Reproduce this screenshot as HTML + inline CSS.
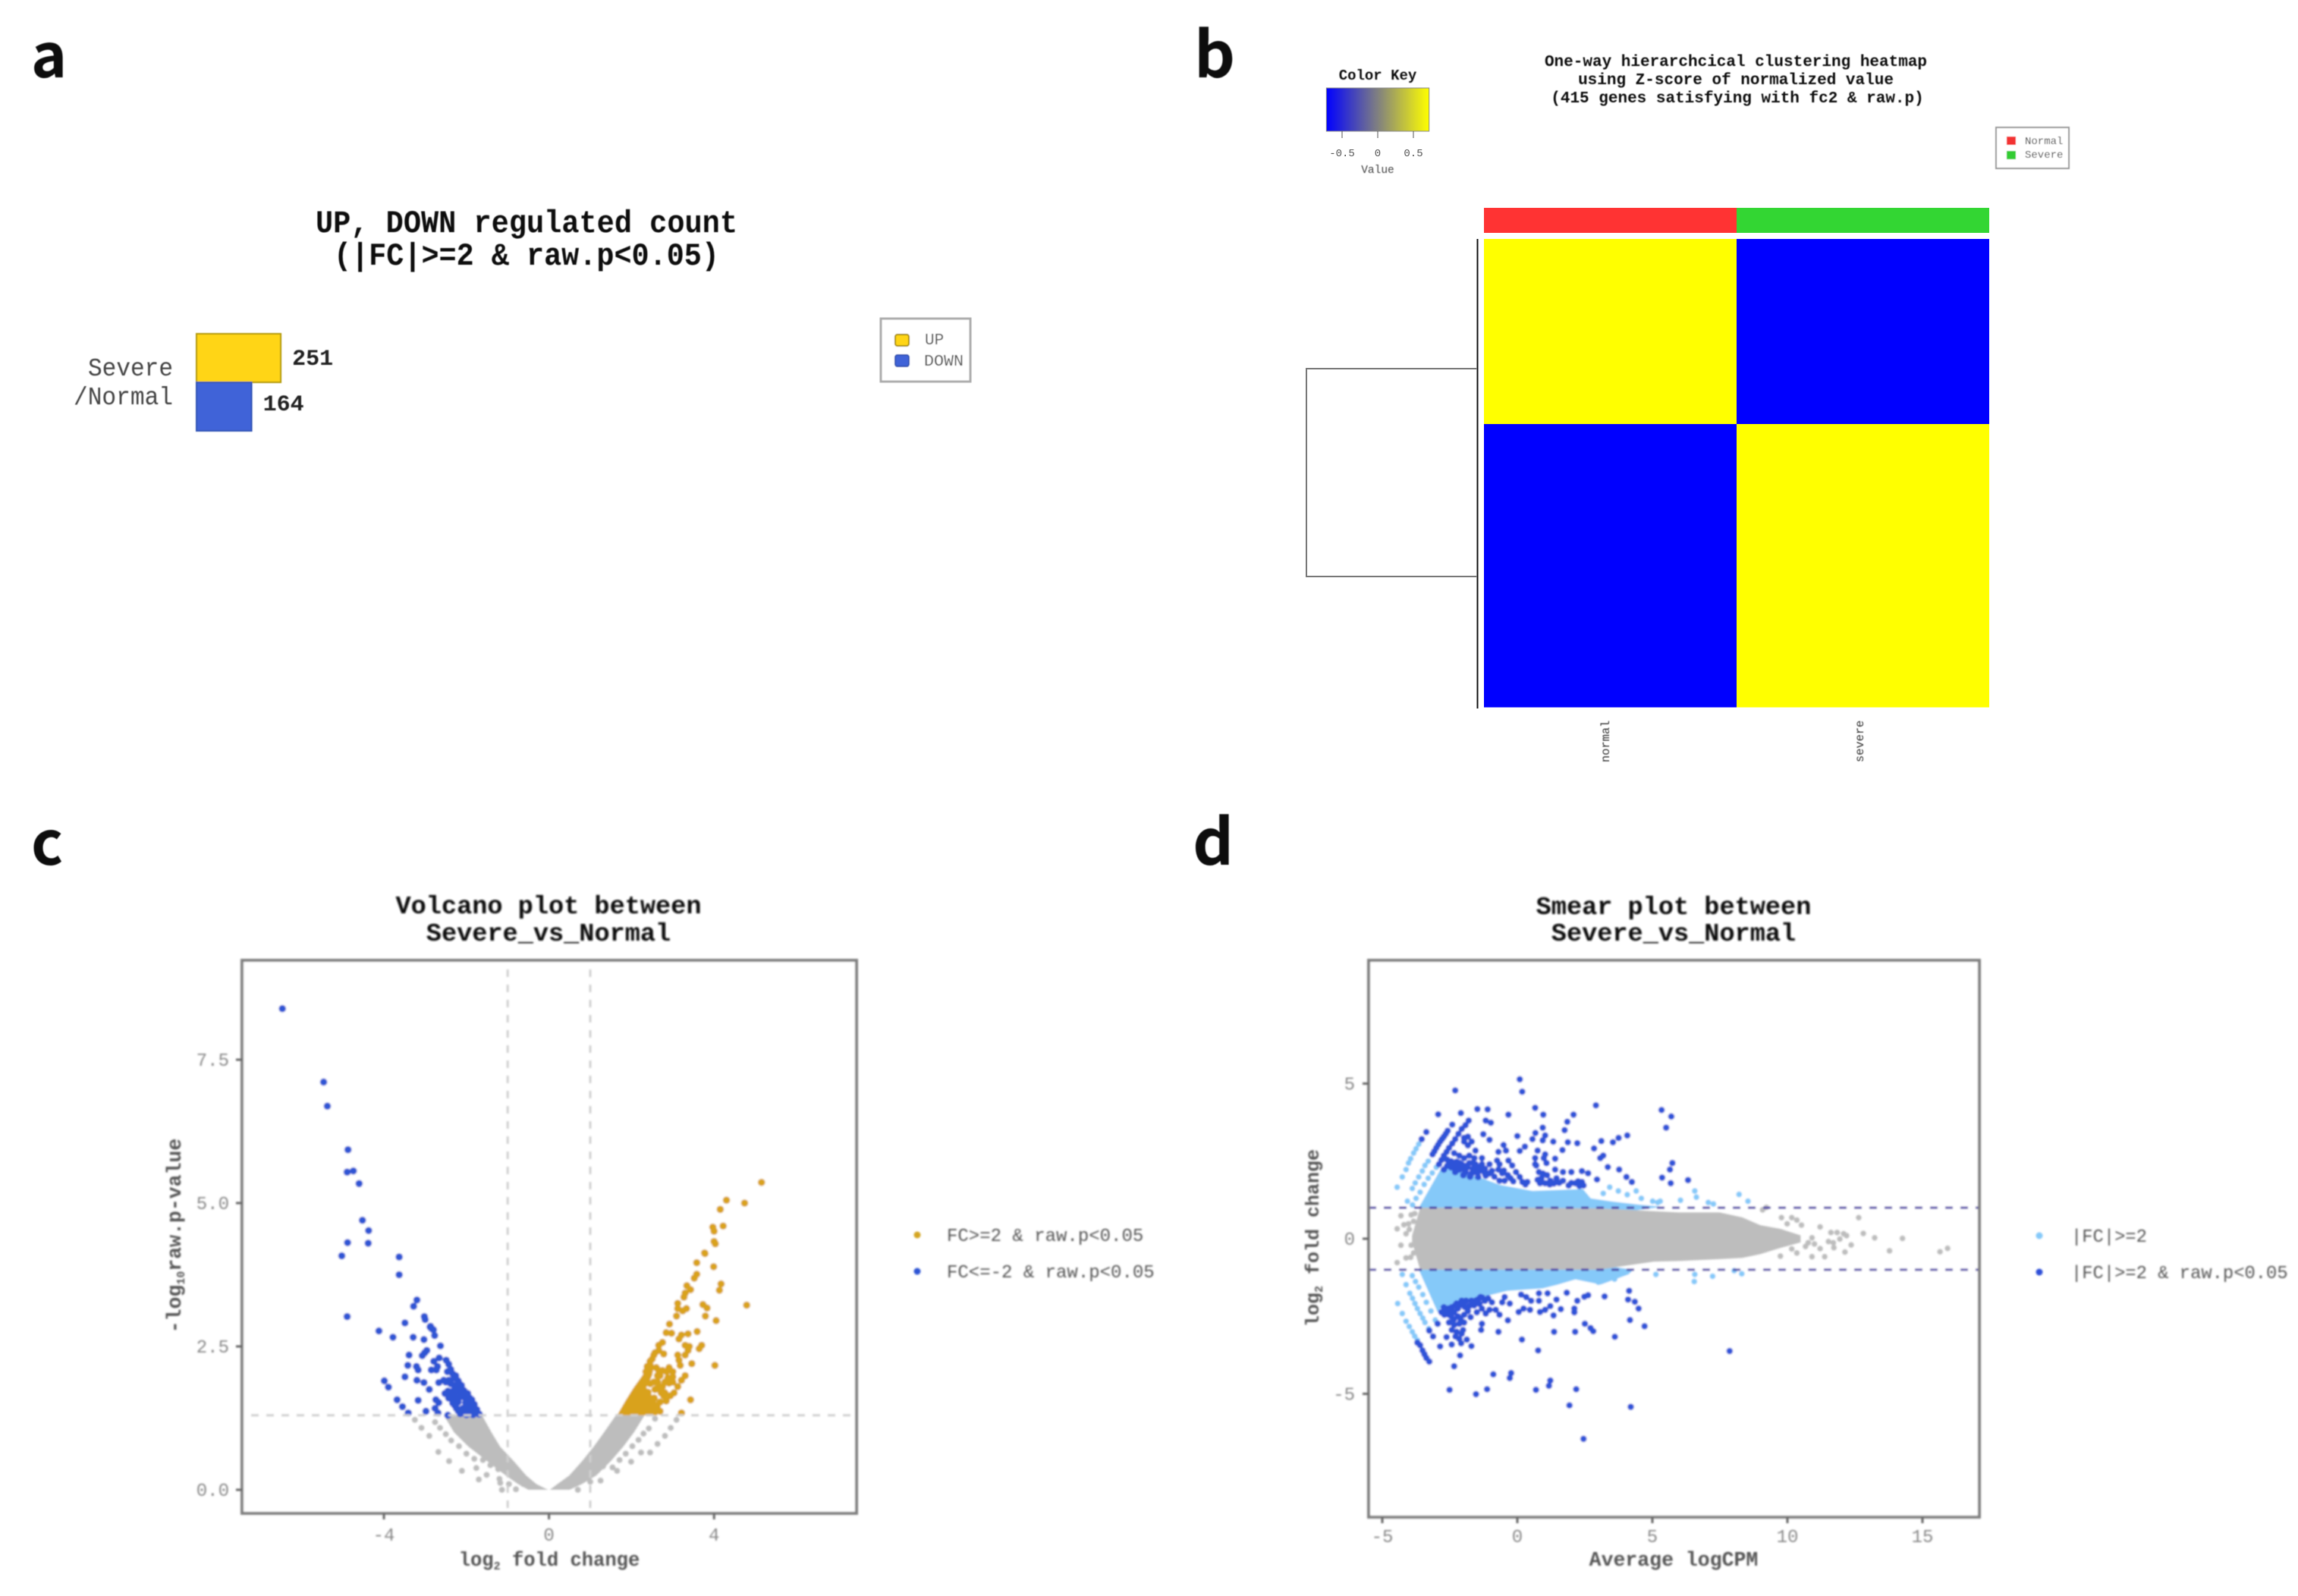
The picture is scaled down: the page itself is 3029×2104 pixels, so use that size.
<!DOCTYPE html>
<html lang="en">
<head>
<meta charset="utf-8">
<title>Differential expression figure</title>
<style>
html,body{margin:0;padding:0;background:#fff;}
svg{display:block;}
text{font-family:"Liberation Mono","DejaVu Sans Mono",monospace;}
.sans{font-family:"Noto Sans CJK KR","Liberation Sans",sans-serif;font-weight:700;}
</style>
</head>
<body>
<svg id="fig" xmlns="http://www.w3.org/2000/svg" width="3029" height="2104" viewBox="0 0 3029 2104">
<defs>
<filter id="soft" filterUnits="userSpaceOnUse" x="0" y="0" width="3029" height="2104"><feGaussianBlur stdDeviation="1.1"/></filter>
<filter id="softer" filterUnits="userSpaceOnUse" x="0" y="0" width="3029" height="2104"><feGaussianBlur stdDeviation="0.6"/></filter>
<linearGradient id="keyGradient" x1="0" x2="1" y1="0" y2="0"><stop offset="0" stop-color="#0000ff"/><stop offset="0.5" stop-color="#808080"/><stop offset="1" stop-color="#ffff00"/></linearGradient>
</defs>

<g filter="url(#softer)">
<text class="sans" x="41" y="102" font-size="80" fill="#111">a</text>
<text class="sans" x="1574" y="102" font-size="84" fill="#111">b</text>
<text class="sans" x="41" y="1140" font-size="80" fill="#111">c</text>
<text class="sans" x="1572" y="1140" font-size="84" fill="#111">d</text>
</g>

<g id="panelA" filter="url(#softer)">
<text x="694" y="306" font-size="42" font-weight="700" text-anchor="middle" textLength="556" lengthAdjust="spacingAndGlyphs" fill="#111">UP, DOWN regulated count</text>
<text x="694" y="349" font-size="42" font-weight="700" text-anchor="middle" textLength="508" lengthAdjust="spacingAndGlyphs" fill="#111">(|FC|&gt;=2 &amp; raw.p&lt;0.05)</text>
<text x="228" y="495" font-size="33" text-anchor="end" textLength="112" lengthAdjust="spacingAndGlyphs" fill="#444">Severe</text>
<text x="228" y="533" font-size="33" text-anchor="end" textLength="131" lengthAdjust="spacingAndGlyphs" fill="#444">/Normal</text>
<g>
<rect x="1161" y="420" width="118" height="83" fill="#fff" stroke="#aaa" stroke-width="3"/>
<rect x="1180" y="441" width="18" height="15" rx="3" fill="#ffd514" stroke="#a98f10" stroke-width="2"/>
<rect x="1180" y="468" width="18" height="15" rx="3" fill="#3f63d8" stroke="#3355b5" stroke-width="2"/>
<text x="1219" y="454" font-size="21" fill="#555">UP</text>
<text x="1218" y="482" font-size="21" textLength="52" lengthAdjust="spacingAndGlyphs" fill="#555">DOWN</text>
</g>
</g>

<g id="panelB">
<g filter="url(#softer)">
<text x="1816" y="105" font-size="19" font-weight="700" text-anchor="middle" fill="#111">Color Key</text>
<text x="1816" y="228" font-size="14.5" text-anchor="middle" fill="#444">Value</text>
<text x="2288" y="87" font-size="21" font-weight="700" text-anchor="middle" fill="#111">One-way hierarchcical clustering heatmap</text>
<text x="2288" y="111" font-size="21" font-weight="700" text-anchor="middle" fill="#111">using Z-score of normalized value</text>
<text x="2290" y="135" font-size="21" font-weight="700" text-anchor="middle" fill="#111">(415 genes satisfying with fc2 &amp; raw.p)</text>
<rect x="2631" y="168" width="96" height="54" fill="#fff" stroke="#999" stroke-width="2"/>
<rect x="2645" y="180" width="12" height="11" fill="#f33333"/>
<rect x="2645" y="199" width="12" height="11" fill="#33cc33"/>
<text x="2669" y="190" font-size="14" fill="#444">Normal</text>
<text x="2669" y="208" font-size="14" fill="#444">Severe</text>
<text transform="translate(2121,1005) rotate(-90)" font-size="15.4" fill="#333">normal</text>
<text transform="translate(2456,1005) rotate(-90)" font-size="15.4" fill="#333">severe</text>
</g>
<g id="keyLayer"></g>
<g id="heatLayer"></g>
<line x1="1947.5" y1="315" x2="1947.5" y2="934" stroke="#111" stroke-width="2"/>
<path d="M1947 486H1722V760H1947" fill="none" stroke="#777" stroke-width="2"/>
</g>

<g id="panelC" filter="url(#soft)">
<text x="723" y="1204" font-size="33.6" font-weight="700" text-anchor="middle" fill="#111">Volcano plot between</text>
<text x="723" y="1240" font-size="33.6" font-weight="700" text-anchor="middle" fill="#111">Severe_vs_Normal</text>
<text x="724" y="2064" font-size="25.5" font-weight="700" text-anchor="middle" fill="#555">log<tspan font-size="15" dy="5">2</tspan><tspan dy="-5"> fold change</tspan></text>
<text transform="translate(238,1629) rotate(-90)" font-size="26.5" font-weight="700" text-anchor="middle" fill="#555">-log<tspan font-size="15" dy="5">10</tspan><tspan dy="-5">raw.p-value</tspan></text>
<circle cx="1209" cy="1628" r="4.5" fill="#d4a520"/>
<circle cx="1209" cy="1676" r="4.5" fill="#2f55d4"/>
<text x="1248" y="1636" font-size="24" fill="#555">FC&gt;=2 &amp; raw.p&lt;0.05</text>
<text x="1248" y="1684" font-size="24" fill="#555">FC&lt;=-2 &amp; raw.p&lt;0.05</text>
</g>

<g id="panelD" filter="url(#soft)">
<text x="2206" y="1205" font-size="33.6" font-weight="700" text-anchor="middle" fill="#111">Smear plot between</text>
<text x="2206" y="1240" font-size="33.6" font-weight="700" text-anchor="middle" fill="#111">Severe_vs_Normal</text>
<text x="2206" y="2064" font-size="26.5" font-weight="700" text-anchor="middle" fill="#555">Average logCPM</text>
<text transform="translate(1738,1632) rotate(-90)" font-size="25" font-weight="700" text-anchor="middle" fill="#555">log<tspan font-size="15" dy="5">2</tspan><tspan dy="-5"> fold change</tspan></text>
<circle cx="2688" cy="1629" r="4.5" fill="#85c9f9"/>
<circle cx="2688" cy="1677" r="4.5" fill="#2f4fd8"/>
<text x="2730" y="1637" font-size="23.8" fill="#555">|FC|&gt;=2</text>
<text x="2730" y="1685" font-size="23.8" fill="#555">|FC|&gt;=2 &amp; raw.p&lt;0.05</text>
</g>
</svg>

<script>
// ---------- panel a data ----------
const barCategories = ['UP', 'DOWN'];
const barCounts = [251, 164];

// ---------- panel b data ----------
const heatmapValues = [[1, -1], [-1, 1]];
const heatmapRowGenes = [164, 251];
const heatmapGroups = ['Normal', 'Severe'];
const colorKeyTicks = [-0.5, 0, 0.5];
const colorKeyRange = [-0.72, 0.72];

// ---------- panel c data ----------
const volcanoXTicks = [-4, 0, 4];
const volcanoYTicks = [0, 2.5, 5, 7.5];
const volcanoFcCutoffs = [-1, 1];
const volcanoPCutoff = 1.3;
const volcanoBandP = [1.30, 1.0, 0.75, 0.5, 0.25, 0.1, 0];
const volcanoLeftOuter = [-2.55, -2.3, -1.95, -1.5, -1.05, -0.75, -0.5];
const volcanoLeftInner = [-1.62, -1.39, -1.18, -0.85, -0.55, -0.3, -0.02];
const volcanoRightInner = [1.62, 1.33, 1.08, 0.8, 0.49, 0.2, 0.02];
const volcanoRightOuter = [2.32, 2.06, 1.8, 1.5, 1.15, 0.8, 0.5];
const volcanoGoldBandP = [1.30, 1.55, 1.78, 1.99, 2.13, 2.24];
const volcanoGoldBandLow = [1.65, 1.85, 2.05, 2.26, 2.36, 2.42];
const volcanoGoldBandHigh = [2.63, 2.6, 2.36, 2.5, 2.54, 2.5];
const volcanoGrayPoints = [[-3.25,1.22],[-3.09,1.08],[-2.90,0.94],[-2.68,0.66],[-2.42,0.50],[-2.11,0.33],[-1.76,0.38],[-1.51,0.26],[-1.70,0.18],[-1.20,0.19],[-1.14,0.00],[-0.97,0.10],[-2.76,1.18],[-2.64,1.08],[-2.50,0.97],[-2.37,0.86],[-2.18,0.76],[-2.00,0.63],[-1.81,0.54],[-1.60,0.52],[-1.42,0.43],[-1.23,0.36],[-0.80,0.01],[-0.62,0.10],[-1.18,0.12],[2.57,1.24],[2.42,1.07],[2.29,0.98],[2.17,0.87],[2.02,0.76],[1.86,0.63],[1.71,0.52],[1.54,0.39],[1.65,0.33],[1.31,0.41],[1.25,0.16],[0.70,0.0],[3.09,1.22],[2.95,1.08],[2.81,0.94],[2.63,0.80],[2.45,0.65],[2.23,0.65],[1.99,0.49],[1.0,0.14]];
const volcanoDownPoints = [[-6.46,8.39],[-5.46,7.11],[-5.37,6.69],[-4.87,5.93],[-4.89,5.54],[-4.74,5.56],[-4.60,5.34],[-4.52,4.70],[-4.37,4.52],[-4.38,4.30],[-4.88,4.31],[-5.02,4.08],[-3.63,4.06],[-3.63,3.75],[-4.89,3.02],[-3.20,3.31],[-3.28,3.20],[-3.02,3.02],[-3.00,2.97],[-3.49,2.91],[-2.88,2.84],[-2.80,2.79],[-4.12,2.77],[-3.78,2.66],[-3.29,2.66],[-3.03,2.62],[-2.87,2.85],[-2.84,2.81],[-2.77,2.69],[-2.63,2.51],[-2.96,2.43],[-3.01,2.39],[-3.07,2.34],[-3.39,2.35],[-3.42,2.17],[-3.21,2.15],[-3.17,2.09],[-3.49,1.97],[-3.20,1.91],[-3.03,1.87],[-2.90,1.75],[-3.99,1.90],[-3.89,1.79],[-3.68,1.57],[-3.55,1.45],[-3.41,1.34],[-3.17,1.56],[-2.98,1.37],[-2.76,1.42],[-2.69,1.34],[-2.74,1.57],[-2.67,1.52],[-2.45,1.30],[-2.66,2.30],[-2.79,2.24],[-2.70,2.15],[-2.85,2.09],[-2.73,2.09],[-2.49,2.26],[-2.43,2.19],[-2.46,2.06],[-2.33,2.02],[-2.26,1.99],[-2.18,1.86],[-2.67,1.87],[-2.55,1.91],[-2.43,1.91],[-2.30,1.82],[-2.15,1.79],[-2.52,1.68],[-2.36,1.71],[-2.21,1.73],[-2.06,1.73],[-1.97,1.68],[-2.43,1.60],[-2.27,1.60],[-2.15,1.62],[-2.03,1.60],[-1.87,1.57],[-2.33,1.51],[-1.97,1.49],[-1.81,1.49],[-2.24,1.42],[-2.09,1.42],[-1.94,1.40],[-1.75,1.40],[-2.15,1.33],[-2.00,1.31],[-1.84,1.31],[-1.69,1.32],[-2.20,1.53],[-2.10,1.36],[-1.88,1.44],[-2.40,1.65],[-2.28,1.47],[-2.45,1.72],[-2.30,1.66],[-2.12,1.68],[-1.92,1.60],[-2.35,1.58],[-2.02,1.52],[-1.90,1.52],[-1.75,1.35],[-1.95,1.33],[-2.05,1.37],[-2.20,1.38],[-1.82,1.37],[-2.27,1.50],[-2.38,2.10],[-2.30,1.95],[-2.20,1.90],[-2.38,1.85],[-2.50,1.88],[-2.25,1.75],[-2.12,1.82]];
const volcanoUpPoints = [[5.15,5.36],[4.30,5.05],[4.15,4.89],[4.74,5.0],[3.97,4.58],[4.0,4.51],[4.22,4.60],[4.0,4.33],[3.77,4.13],[4.03,4.29],[3.78,4.12],[3.58,3.96],[3.99,3.89],[3.58,3.76],[3.52,3.69],[4.17,3.59],[4.13,3.48],[3.34,3.56],[3.43,3.49],[3.30,3.43],[3.27,3.36],[4.79,3.22],[3.73,3.23],[3.83,3.17],[3.79,3.03],[4.05,2.95],[3.12,3.25],[3.33,3.16],[3.24,3.12],[3.12,3.16],[3.09,3.03],[2.92,2.89],[2.84,2.74],[2.97,2.73],[3.37,2.72],[3.59,2.76],[3.21,2.70],[3.15,2.63],[2.75,2.57],[2.66,2.52],[3.70,2.52],[3.64,2.46],[3.40,2.50],[3.30,2.52],[3.37,2.43],[2.78,2.37],[2.57,2.39],[3.12,2.35],[3.30,2.35],[3.15,2.26],[3.18,2.17],[3.46,2.20],[4.02,2.17],[2.45,2.24],[2.60,2.13],[3.00,2.06],[2.85,2.06],[2.69,1.99],[3.0,1.97],[3.30,1.99],[3.21,1.91],[3.12,1.80],[3.03,1.69],[2.94,1.64],[2.84,1.55],[2.81,1.88],[2.91,1.86],[2.72,1.69],[2.75,1.80],[3.43,1.57],[3.21,1.34],[2.69,1.37],[2.69,1.75],[2.78,1.64],[2.63,1.88],[2.55,1.60],[2.62,1.45],[2.54,1.88],[2.63,1.99],[2.57,1.75],[2.75,2.08],[2.66,2.08],[2.91,2.13],[2.63,1.77],[2.81,1.69],[2.69,1.53],[2.88,1.95],[3.0,1.88],[2.57,1.46],[2.45,2.17],[2.54,2.35],[2.66,2.43],[2.35,2.06],[2.50,2.28],[2.38,2.15],[2.45,1.85],[2.40,1.70]];

// ---------- panel d data ----------
const smearXTicks = [-5, 0, 5, 10, 15];
const smearYTicks = [-5, 0, 5];
const smearFcCutoffs = [-1, 1];
const smearGrayCpm = [-3.9, -3.6, 0, 3, 5.06, 5.99, 7.49, 8.33, 8.99, 9.74, 10.49];
const smearGrayUpper = [0.1, 1, 1, 0.98, 0.89, 0.85, 0.85, 0.69, 0.44, 0.32, 0.11];
const smearGrayLower = [-0.1, -1, -1, -1, -0.74, -0.72, -0.66, -0.62, -0.5, -0.3, -0.12];
const smearLightTopCpm = [-3.65, -2.81, -2.25, -1.31, -0.66, 0.56, 2.43, 2.72, 3.5, 4.5, 5.4];
const smearLightTop = [1, 2.29, 2.2, 1.95, 1.74, 1.54, 1.6, 1.3, 1.2, 1.1, 1.03];
const smearLightBottomCpm = [-3.65, -2.95, -2.81, -1.31, -0.37, 0.94, 1.5, 2.15, 3.09, 4.12, 4.3];
const smearLightBottom = [-1, -2.37, -2.21, -1.88, -1.68, -1.6, -1.48, -1.31, -1.48, -1.15, -1];
const smearGrayPoints = [[12.64,0.68],[12.81,0.17],[13.23,0.03],[14.26,0.01],[13.78,-0.39],[15.65,-0.42],[15.93,-0.31],[12.36,-0.2],[11.21,0.38],[11.21,-0.32],[11.38,-0.58],[12.13,-0.43],[11.61,0.2],[11.84,0.2],[12.08,0.16],[12.19,0.10],[11.52,-0.09],[11.70,-0.13],[11.94,-0.01],[11.72,-0.29],[10.91,0.03],[10.77,-0.13],[10.67,-0.25],[10.91,-0.58],[11.0,-0.17],[9.78,0.68],[10.16,0.68],[10.35,0.6],[10.52,0.44],[9.99,0.48],[9.74,-0.56],[10.16,-0.33],[10.35,-0.46],[9.08,0.93],[9.22,1.01],[-4.45,0.32],[-4.31,0.74],[-4.03,0.48],[-3.93,0.77],[-4.12,0.16],[-3.84,0.56],[-3.8,0.81],[-4.45,-0.77],[-4.31,-0.21],[-4.12,-0.62],[-3.84,-0.46],[-3.93,-0.21],[-4.0,0.3],[-4.2,0.45],[-3.95,-0.6]];
const smearLightPoints = [[-4.45,1.66],[-4.26,1.99],[-4.12,2.23],[-4.03,2.44],[-3.95,2.58],[-3.84,2.76],[-3.75,2.9],[-3.65,3.05],[-4.07,1.21],[-3.89,1.62],[-3.78,1.8],[-3.65,1.99],[-3.52,2.18],[-3.42,2.36],[-3.3,2.5],[-3.88,1.09],[-3.75,1.3],[-3.6,1.5],[-3.45,1.75],[-3.3,1.95],[-3.15,2.12],[-3.0,2.3],[8.21,1.43],[8.54,1.21],[6.04,1.24],[6.57,1.54],[6.63,1.34],[7.07,1.17],[7.26,1.12],[5.2,1.17],[6.57,-1.15],[6.55,-1.38],[7.23,-1.21],[8.03,-1.03],[8.31,-1.13],[5.13,-1.15],[3.42,1.66],[3.18,1.46],[3.74,1.54],[4.07,1.42],[4.40,1.54],[4.59,1.30],[5.01,1.21],[5.29,1.21],[-4.43,-2.09],[-4.26,-2.41],[-4.12,-2.66],[-4.0,-2.83],[-3.89,-3.0],[-3.8,-3.14],[-3.7,-3.27],[-4.26,-1.15],[-4.12,-1.48],[-3.98,-1.76],[-3.88,-1.92],[-3.79,-2.09],[-3.7,-2.25],[-3.6,-2.41],[-3.5,-2.56],[-3.42,-2.70],[-3.28,-2.9],[-3.89,-1.19],[-3.77,-1.38],[-3.65,-1.56],[-3.5,-1.8],[-3.37,-2.05],[-3.2,-2.33],[-3.04,-2.62],[3.0,-1.4],[3.3,-1.25],[3.6,-1.3]];
const smearSigPoints = [[-2.30,4.78],[0.09,5.14],[0.18,4.74],[-2.93,4.01],[-2.09,4.05],[-1.48,4.18],[-1.10,4.17],[-0.33,4.0],[0.66,4.22],[0.96,4.0],[2.91,4.30],[5.34,4.15],[5.70,3.94],[5.51,3.58],[2.08,4.0],[1.85,3.77],[1.75,3.50],[-1.80,3.81],[-2.41,3.68],[-3.37,3.44],[-3.54,3.21],[-1.17,3.81],[-0.98,3.74],[-1.26,3.37],[-1.03,3.19],[0.0,3.31],[0.56,3.21],[0.67,3.41],[0.94,3.58],[1.03,3.33],[0.94,3.17],[1.33,3.13],[1.87,3.11],[2.22,3.08],[1.67,2.86],[3.11,3.15],[2.84,2.91],[3.54,3.11],[3.75,3.25],[4.07,3.33],[3.07,2.60],[3.18,2.68],[3.35,2.31],[3.77,2.23],[4.04,1.99],[4.24,1.83],[5.36,1.97],[5.68,1.79],[5.65,2.23],[5.74,2.44],[2.95,1.91],[1.40,2.23],[1.69,2.15],[2.0,2.15],[2.39,2.18],[2.62,2.11],[6.32,1.89],[-3.14,2.72],[-3.0,2.93],[-2.86,3.13],[-2.72,3.29],[-2.58,3.48],[-2.9,2.40],[-2.72,2.68],[-2.53,2.93],[-2.3,3.21],[-2.06,3.54],[-1.92,3.66],[-1.97,3.25],[-1.83,3.29],[-1.69,3.13],[-1.83,3.01],[-1.97,3.13],[-1.55,2.84],[-0.51,3.02],[-0.42,2.84],[-0.70,2.80],[0.09,2.83],[0.28,2.97],[0.75,2.84],[1.03,2.72],[1.40,2.58],[-2.34,2.76],[-2.15,2.68],[-1.97,2.60],[-1.78,2.68],[-1.59,2.60],[-1.31,2.60],[-2.25,2.48],[-2.06,2.40],[-1.78,2.44],[-1.55,2.40],[-1.31,2.40],[-1.03,2.40],[-2.53,2.40],[-2.39,2.31],[-2.15,2.23],[-1.92,2.15],[-1.69,2.11],[-1.45,1.99],[-1.17,2.03],[-0.94,2.19],[-0.75,2.52],[-0.66,2.40],[-0.70,2.23],[-0.56,2.11],[-0.66,1.87],[-0.47,1.87],[-0.33,2.52],[-0.19,2.36],[-0.05,2.15],[0.09,1.99],[0.19,1.83],[0.37,1.83],[0.66,2.60],[0.70,2.36],[0.80,2.15],[0.89,1.95],[0.84,1.79],[1.03,1.79],[0.98,2.60],[1.08,2.44],[1.45,1.95],[1.69,1.87],[2.15,1.79],[2.39,1.83],[1.22,1.87],[0.66,2.40],[-2.72,2.23],[-2.25,2.30],[-2.0,2.25],[-1.65,2.25],[-1.3,2.2],[-3.07,2.82],[-2.93,3.03],[-2.79,3.21],[-2.65,3.38],[-2.81,2.54],[-2.62,2.8],[-2.41,3.07],[-2.18,3.38],[-2.6,2.55],[-2.45,2.5],[-2.3,2.45],[-2.45,2.3],[-2.15,2.45],[-1.9,2.35],[-1.65,2.45],[-1.45,2.3],[-1.2,2.25],[-1.45,2.15],[-1.2,2.1],[-1.05,2.1],[-0.85,2.0],[-2.6,2.35],[-2.3,2.15],[-2.0,2.05],[-1.75,2.0],[-1.55,2.15],[-1.85,2.3],[-2.1,2.35],[-0.5,2.2],[-0.35,2.05],[-0.25,1.95],[-0.15,1.85],[0.3,1.75],[0.75,1.9],[0.95,2.1],[1.1,2.05],[1.2,1.75],[1.35,1.78],[1.55,1.8],[2.0,1.8],[2.25,1.85],[2.45,1.72],[2.3,1.7],[1.9,1.72],[-2.51,-4.87],[-1.53,-5.01],[-1.12,-4.85],[-0.89,-4.37],[-0.23,-4.33],[-0.28,-4.49],[0.69,-4.87],[1.22,-4.57],[1.17,-4.74],[2.18,-4.85],[2.45,-6.45],[4.2,-5.42],[7.86,-3.62],[1.93,-5.37],[-2.34,-4.11],[-2.12,-3.76],[0.77,-3.6],[0.17,-3.25],[3.61,-3.16],[1.36,-3.0],[2.14,-3.0],[2.50,-2.74],[2.71,-2.88],[2.81,-2.98],[4.71,-2.82],[4.17,-2.62],[-0.70,-3.0],[-0.35,-2.63],[-1.34,-2.94],[-1.31,-2.74],[1.34,-2.47],[1.61,-2.27],[2.11,-2.37],[2.11,-2.25],[4.49,-2.25],[4.10,-1.96],[4.35,-2.03],[4.14,-1.68],[3.23,-1.86],[2.62,-1.82],[2.48,-1.87],[2.22,-2.0],[1.45,-1.96],[1.83,-1.74],[1.12,-1.76],[0.84,-2.36],[1.03,-2.29],[1.22,-2.17],[0.80,-2.0],[0.80,-1.76],[0.14,-1.80],[0.33,-1.88],[0.51,-2.0],[0.05,-2.36],[0.23,-2.25],[0.47,-2.29],[-0.28,-2.09],[-0.47,-1.88],[-0.66,-2.45],[-0.8,-2.29],[-1.03,-2.29],[-0.56,-2.05],[-2.86,-3.47],[-2.43,-3.41],[-2.08,-3.37],[-1.70,-3.46],[-1.87,-3.25],[-2.62,-3.17],[-3.12,-3.15],[-3.26,-2.96],[-2.95,-2.74],[-3.6,-3.43],[-3.51,-3.6],[-3.37,-3.84],[-3.26,-3.96],[-3.7,-3.35],[-3.44,-3.72],[-2.53,-2.70],[-2.34,-2.78],[-2.15,-2.74],[-1.97,-2.70],[-2.43,-2.94],[-2.25,-3.0],[-2.06,-3.06],[-2.29,-3.15],[-2.15,-3.23],[-2.01,-2.94],[-2.81,-2.37],[-2.62,-2.29],[-2.43,-2.21],[-2.25,-2.09],[-2.06,-2.0],[-2.72,-2.21],[-2.34,-2.37],[-2.53,-2.45],[-1.78,-2.17],[-1.55,-2.0],[-1.36,-1.88],[-1.08,-1.92],[-1.17,-2.41],[-1.5,-2.37],[-1.73,-2.53],[-1.83,-2.33],[-1.97,-2.45],[-1.31,-2.25],[-0.94,-2.05],[-2.5,-2.3],[-2.2,-2.25],[-1.95,-2.2],[-1.65,-2.1],[-2.7,-2.3],[-2.55,-2.25],[-2.4,-2.35],[-2.3,-2.15],[-2.15,-2.15],[-2.0,-2.1],[-1.9,-2.0],[-1.7,-2.0],[-1.45,-1.95],[-1.3,-1.9],[-1.2,-2.0],[-2.6,-2.4],[-2.45,-2.5],[-2.7,-2.45],[-1.6,-2.15],[-1.4,-2.1],[-2.35,-2.6],[-2.2,-2.5],[-2.1,-2.6]];
// Value-to-pixel mappings for each axis.
const sx = v => 723.6 + 54.4 * v, sy = v => 1964 - 75.6 * v;
const mx = v => 2000 + 35.6 * v, my = v => 1633 - 40.9 * v;
const NS = 'http://www.w3.org/2000/svg';
function mk(parent, tag, attrs) {
  const el = document.createElementNS(NS, tag);
  for (const k in attrs) el.setAttribute(k, attrs[k]);
  parent.appendChild(el);
  return el;
}
function dots(parent, pts, fx, fy, r, fill, name) {
  pts.forEach(p => {
    const c = mk(parent, 'circle', {cx: fx(p[0]), cy: fy(p[1]), r: r, fill: fill});
    
    
  });
}
function areaPath(xa, ya, xb, yb) {
  let d = 'M' + xa.map((x, i) => x + ' ' + ya[i]).join('L');
  for (let i = xb.length - 1; i >= 0; i--) d += 'L' + xb[i] + ' ' + yb[i];
  return d + 'Z';
}
function axisText(parent, x, y, anchor, label) {
  const t = mk(parent, 'text', {x: x, y: y, 'font-size': 24, 'text-anchor': anchor, fill: '#888'});
  t.textContent = label;
  return t;
}

// ---------- panel a: bars ----------
(function () {
  const g = document.getElementById('panelA');
  const bw = c => c * 0.4425, x0 = 259, tops = [440, 504], h = 64, baselines = [481, 541];
  const fills = ['#ffd514', '#3f63d8'], strokes = ['#b39a10', '#3355b5'];
  barCounts.forEach((c, i) => {
    const r = mk(g, 'rect', {x: x0, y: tops[i], width: bw(c), height: h, fill: fills[i], stroke: strokes[i], 'stroke-width': 2});
    
    
    const t = mk(g, 'text', {x: x0 + bw(c) + 15, y: baselines[i], 'font-size': 30, 'font-weight': 700, fill: '#222'});
    
    
    t.textContent = c;
  });
})();

// ---------- panel b: key + heatmap ----------
(function () {
  const k = document.getElementById('keyLayer');
  const kx = v => 1816 + 94 * v;
  const kr = mk(k, 'rect', {x: kx(colorKeyRange[0]), y: 116, width: kx(colorKeyRange[1]) - kx(colorKeyRange[0]), height: 57, fill: 'url(#keyGradient)', stroke: '#888', 'stroke-width': 1});
  
  
  colorKeyTicks.forEach(v => {
    const l = mk(k, 'line', {x1: kx(v), x2: kx(v), y1: 173, y2: 182, stroke: '#555', 'stroke-width': 1});
    
    
    const t = mk(k, 'text', {x: kx(v), y: 206, 'font-size': 14, 'text-anchor': 'middle', fill: '#555'});
    
    
    t.textContent = v;
  });
  const h = document.getElementById('heatLayer');
  const x0 = 1956, cw = 333, y0 = 315, total = heatmapRowGenes.reduce((a, b) => a + b, 0), H = 617.5;
  const groupColors = {Normal: '#ff3333', Severe: '#33d633'};
  heatmapGroups.forEach((g, i) => {
    const r = mk(h, 'rect', {x: x0 + i * cw, y: 274, width: cw, height: 33, fill: groupColors[g]});
    
    
  });
  let y = y0;
  heatmapValues.forEach((row, ri) => {
    const rh = heatmapRowGenes[ri] / total * H;
    row.forEach((v, ci) => {
      const r = mk(h, 'rect', {x: x0 + ci * cw, y: y, width: cw, height: rh, fill: v > 0 ? '#ffff00' : '#0000ff'});
      
      
    });
    y += rh;
  });
})();

// ---------- panel c: volcano ----------
(function () {
  const g = document.getElementById('panelC');
  const L = 319, R = 1129, T = 1266, B = 1995;
  const bg = mk(g, 'rect', {x: L, y: T, width: R - L, height: B - T, fill: '#fff'});
  
  
  const grayFill = '#bdbdbd';
  [[volcanoLeftOuter, volcanoLeftInner], [volcanoRightInner, volcanoRightOuter]].forEach(pair => {
    const p = mk(g, 'path', {d: areaPath(pair[0].map(sx), volcanoBandP.map(sy), pair[1].map(sx), volcanoBandP.map(sy)), fill: grayFill});
    
    
  });
  dots(g, volcanoGrayPoints, sx, sy, 4, grayFill, 'volcano-nonsignificant-point');
  const gold = mk(g, 'path', {d: areaPath(volcanoGoldBandLow.map(sx), volcanoGoldBandP.map(sy), volcanoGoldBandHigh.map(sx), volcanoGoldBandP.map(sy)), fill: '#d9a21c'});
  
  
  dots(g, volcanoUpPoints, sx, sy, 4.8, '#d9a21c', 'volcano-up-point');
  dots(g, volcanoDownPoints, sx, sy, 4.8, '#2f55d4', 'volcano-down-point');
  volcanoFcCutoffs.forEach(v => {
    const l = mk(g, 'line', {x1: sx(v), x2: sx(v), y1: T + 12, y2: B, stroke: '#cfcfcf', 'stroke-width': 3, 'stroke-dasharray': '10 10'});
    
    
  });
  const hl = mk(g, 'line', {x1: L + 12, x2: R, y1: sy(volcanoPCutoff), y2: sy(volcanoPCutoff), stroke: '#cfcfcf', 'stroke-width': 3, 'stroke-dasharray': '10 10'});
  
  
  const fr = mk(g, 'rect', {x: L, y: T, width: R - L, height: B - T, fill: 'none', stroke: '#808080', 'stroke-width': 4});
  
  
  volcanoXTicks.forEach(v => {
    const l = mk(g, 'line', {x1: sx(v), x2: sx(v), y1: B, y2: B + 8, stroke: '#666', 'stroke-width': 3});
    
    
    const t = axisText(g, sx(v), 2031, 'middle', v);
    
    
  });
  volcanoYTicks.forEach(v => {
    const l = mk(g, 'line', {x1: L - 8, x2: L, y1: sy(v), y2: sy(v), stroke: '#666', 'stroke-width': 3});
    
    
    const t = axisText(g, 302, sy(v) + 8, 'end', v.toFixed(1));
    
    
  });
})();

// ---------- panel d: smear ----------
(function () {
  const g = document.getElementById('panelD');
  const L = 1804, R = 2609, T = 1266, B = 2000;
  const bg = mk(g, 'rect', {x: L, y: T, width: R - L, height: B - T, fill: '#fff'});
  
  
  const light = '#85c9f9';
  const a1 = mk(g, 'path', {d: areaPath(smearLightTopCpm.map(mx), smearLightTop.map(my), [smearLightTopCpm[smearLightTopCpm.length - 1], smearLightTopCpm[0]].map(mx), [0, 0].map(my)), fill: light});
  
  
  const a2 = mk(g, 'path', {d: areaPath(smearLightBottomCpm.map(mx), smearLightBottom.map(my), [smearLightBottomCpm[smearLightBottomCpm.length - 1], smearLightBottomCpm[0]].map(mx), [0, 0].map(my)), fill: light});
  
  
  dots(g, smearLightPoints, mx, my, 3.8, light, 'smear-fold-change-point');
  const gb = mk(g, 'path', {d: areaPath(smearGrayCpm.map(mx), smearGrayUpper.map(my), smearGrayCpm.map(mx), smearGrayLower.map(my)), fill: '#bdbdbd'});
  
  
  dots(g, smearGrayPoints, mx, my, 3.8, '#bdbdbd', 'smear-nonsignificant-point');
  dots(g, smearSigPoints, mx, my, 4.3, '#2f52d8', 'smear-significant-point');
  smearFcCutoffs.forEach(v => {
    const l = mk(g, 'line', {x1: L, x2: R, y1: my(v), y2: my(v), stroke: '#4b3fa8', 'stroke-width': 3, 'stroke-dasharray': '10 10'});
    
    
  });
  const fr = mk(g, 'rect', {x: L, y: T, width: R - L, height: B - T, fill: 'none', stroke: '#808080', 'stroke-width': 4});
  
  
  smearXTicks.forEach(v => {
    const l = mk(g, 'line', {x1: mx(v), x2: mx(v), y1: B, y2: B + 8, stroke: '#666', 'stroke-width': 3});
    
    
    const t = axisText(g, mx(v), 2033, 'middle', v);
    
    
  });
  smearYTicks.forEach(v => {
    const l = mk(g, 'line', {x1: L - 8, x2: L, y1: my(v), y2: my(v), stroke: '#666', 'stroke-width': 3});
    
    
    const t = axisText(g, 1786, my(v) + 8, 'end', v);
    
    
  });
})();
</script>
</body>
</html>
